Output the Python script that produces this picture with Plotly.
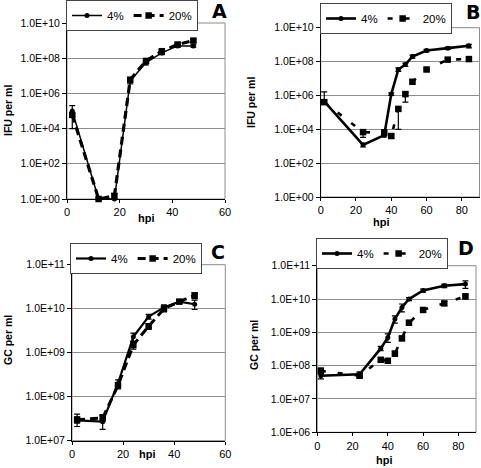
import plotly.graph_objects as go

# ---------------- data ----------------
hpi_A = [2, 12, 18, 24, 30, 36, 42, 48]
A_4 = [1e5, 1, 1, 5e6, 5.6e7, 2e8, 5e8, 5e8]
A_4_hi = [1e5, 0, 0, 1.5e6, 1.5e7, 4e7, 8e7, 8e7]
A_4_lo = [9e4, 0, 0, 1.5e6, 1.5e7, 4e7, 8e7, 8e7]
A_20 = [6e4, 1, 1.5, 6e6, 7e7, 2.5e8, 6e8, 1e9]
A_20_hi = [1e4, 0, 0.5, 1.5e6, 1.5e7, 5e7, 1e8, 2e8]
A_20_lo = [1e4, 0, 0.5, 1.5e6, 1.5e7, 5e7, 1e8, 2e8]

hpi_B = [2, 24, 36, 40, 44, 48, 52, 60, 72, 84]
B_4 = [4.4e5, 1.2e3, 4.5e3, 1.2e6, 3.4e7, 6.6e7, 2e8, 4.5e8, 6.2e8, 8.5e8]
B_4_hi = [1.2e6, 3e2, 5e3, 2e5, 8e6, 1.5e7, 4e7, 8e7, 1e8, 2e8]
B_4_lo = [1e5, 3e2, 1e3, 2e5, 8e6, 1.5e7, 4e7, 8e7, 1e8, 2e8]
B_20 = [4e5, 6.8e3, 6e3, 4e3, 1.6e5, 1.2e6, 6.4e6, 3.4e7, 1.3e8, 1.4e8]
B_20_hi = [1e5, 2e3, 2e3, 1e3, 3e4, 3e5, 1.5e6, 6e6, 2e7, 3e7]
B_20_lo = [1e5, 3.5e3, 1e3, 1e3, 1.5e5, 8e5, 1.5e6, 6e6, 2e7, 3e7]

hpi_C = [2, 12, 18, 24, 30, 36, 42, 48]
C_4 = [2.9e7, 2.7e7, 2e8, 2.3e9, 6.6e9, 1.07e10, 1.45e10, 1.26e10]
C_4_hi = [1.1e7, 1.1e7, 4e7, 5e8, 8e8, 1.5e9, 1.5e9, 3e9]
C_4_lo = [8e6, 9e6, 4e7, 5e8, 8e8, 1.5e9, 1.5e9, 3e9]
C_20 = [3e7, 3.3e7, 1.8e8, 1.5e9, 4e9, 1e10, 1.45e10, 2e10]
C_20_hi = [5e6, 6e6, 3e7, 3e8, 6e8, 1.5e9, 1.5e9, 3e9]
C_20_lo = [5e6, 6e6, 3e7, 3e8, 6e8, 1.5e9, 1.5e9, 3e9]

hpi_D = [2, 24, 36, 40, 44, 48, 52, 60, 72, 84]
D_4 = [5e7, 5.5e7, 3.3e8, 7e8, 2.5e9, 5.6e9, 1e10, 1.8e10, 2.5e10, 2.8e10]
D_4_hi = [1.5e7, 1e7, 5e7, 2e8, 6e8, 1.5e9, 1e9, 2e9, 3e9, 7e9]
D_4_lo = [1e7, 1e7, 5e7, 2e8, 6e8, 1.5e9, 1e9, 2e9, 3e9, 7e9]
D_20 = [7e7, 5e7, 1.5e8, 1.4e8, 2.3e8, 6.6e8, 1.95e9, 4.7e9, 7.4e9, 1.2e10]
D_20_hi = [1.5e7, 8e6, 2e7, 2e7, 4e7, 1e8, 3e8, 6e8, 1e9, 2e9]
D_20_lo = [1.5e7, 8e6, 2e7, 2e7, 4e7, 1e8, 3e8, 6e8, 1e9, 2e9]

series_names = ["4%", "20%"]
panel_letters = ["A", "B", "C", "D"]
y_titles = ["IFU per ml", "IFU per ml", "GC per ml", "GC per ml"]
x_title = "hpi"

# ---------------- layout geometry ----------------
W, H = 481, 468
def px_x(v):
    return v / W
def px_y(v):
    return 1 - v / H

panels = [
    dict(x=hpi_A, s4=(A_4, A_4_hi, A_4_lo), s20=(A_20, A_20_hi, A_20_lo),
         xdom=(67, 225), ydom=(23, 199), xr=[0, 60], xt=[0, 20, 40, 60], ye=(0, 10), ystep=2,
         leg=(66, 0), dash="8px,5px", w4=1.5, w20=3.2,
         letter=(219, 11), ytitle=(8, 111), xtitle=(146, 218)),
    dict(x=hpi_B, s4=(B_4, B_4_hi, B_4_lo), s20=(B_20, B_20_hi, B_20_lo),
         xdom=(320.7, 479.5), ydom=(27.7, 197), xr=[0, 90], xt=[0, 20, 40, 60, 80], ye=(0, 10), ystep=2,
         leg=(320, 3), dash="5px,12px", w4=2.6, w20=2.6,
         letter=(473, 12), ytitle=(251, 103), xtitle=(381, 222)),
    dict(x=hpi_C, s4=(C_4, C_4_hi, C_4_lo), s20=(C_20, C_20_hi, C_20_lo),
         xdom=(72, 225.3), ydom=(264.7, 440.7), xr=[0, 60], xt=[0, 20, 40, 60], ye=(7, 11), ystep=1,
         leg=(70, 243), dash="8px,5px", w4=2.2, w20=3.0,
         letter=(218, 252), ytitle=(8, 340), xtitle=(147, 454)),
    dict(x=hpi_D, s4=(D_4, D_4_hi, D_4_lo), s20=(D_20, D_20_hi, D_20_lo),
         xdom=(317.3, 476), ydom=(265.7, 432.3), xr=[0, 90], xt=[0, 20, 40, 60, 80], ye=(6, 11), ystep=1,
         leg=(316, 238), dash="5px,12px", w4=2.6, w20=2.6,
         letter=(466, 248), ytitle=(254, 345), xtitle=(384, 460)),
]

FONT = "Liberation Sans, Arial, sans-serif"
fig = go.Figure()
layout = dict(width=W, height=H, margin=dict(l=0, r=0, t=0, b=0, autoexpand=False),
              paper_bgcolor="white", plot_bgcolor="white",
              font=dict(family=FONT, size=11, color="black"),
              annotations=[], shapes=[])

for i, p in enumerate(panels):
    n = i + 1
    xa = "x" if n == 1 else f"x{n}"
    ya = "y" if n == 1 else f"y{n}"
    leg = "legend" if n == 1 else f"legend{n}"
    xkey = "xaxis" if n == 1 else f"xaxis{n}"
    ykey = "yaxis" if n == 1 else f"yaxis{n}"

    y4, h4, l4 = p["s4"]
    y20, h20, l20 = p["s20"]
    fig.add_trace(go.Scatter(
        x=p["x"], y=y4, name=series_names[0], xaxis=xa, yaxis=ya, legend=leg,
        mode="lines+markers", cliponaxis=False,
        line=dict(color="black", width=p["w4"]),
        marker=dict(symbol="circle", size=5, color="black"),
        error_y=dict(type="data", array=h4, arrayminus=l4, color="black", thickness=1.2, width=3)))
    fig.add_trace(go.Scatter(
        x=p["x"], y=y20, name=series_names[1], xaxis=xa, yaxis=ya, legend=leg,
        mode="lines+markers", cliponaxis=False,
        line=dict(color="black", width=p["w20"], dash=p["dash"]),
        marker=dict(symbol="square", size=6.5, color="black"),
        error_y=dict(type="data", array=h20, arrayminus=l20, color="black", thickness=1.2, width=3)))

    e0, e1 = p["ye"]
    exps = list(range(e0, e1 + 1, p["ystep"]))
    layout[xkey] = dict(domain=[px_x(p["xdom"][0]), px_x(p["xdom"][1])], anchor=ya,
                        range=p["xr"], tickvals=p["xt"], showgrid=False, zeroline=False,
                        showline=True, linecolor="black", linewidth=1,
                        ticks="outside", ticklen=3, tickcolor="black",
                        tickfont=dict(size=11, family=FONT))
    layout[ykey] = dict(domain=[px_y(p["ydom"][1]), px_y(p["ydom"][0])], anchor=xa,
                        type="log", range=[e0, e1],
                        tickvals=[10 ** e for e in exps],
                        ticktext=[f"1.0E+{e:02d}" for e in exps],
                        showgrid=True, gridcolor="#8c8c8c", gridwidth=1, zeroline=False,
                        showline=True, linecolor="black", linewidth=1,
                        ticks="outside", ticklen=4, tickcolor="black",
                        tickfont=dict(size=10.5, family=FONT))
    layout[leg] = dict(x=px_x(p["leg"][0]), y=px_y(p["leg"][1]), xanchor="left", yanchor="top",
                       orientation="h", bordercolor="#444", borderwidth=1, bgcolor="white",
                       font=dict(size=11.5, family=FONT), itemwidth=30, tracegroupgap=0)
    # frame (top/right in grey)
    layout["shapes"].append(dict(type="rect", xref=f"{xa} domain", yref=f"{ya} domain",
                                 x0=0, x1=1, y0=0, y1=1, line=dict(color="#8c8c8c", width=1),
                                 layer="below"))
    layout["annotations"].append(dict(text=panel_letters[i], x=px_x(p["letter"][0]), y=px_y(p["letter"][1]),
                                      xref="paper", yref="paper", showarrow=False,
                                      xanchor="center", yanchor="middle",
                                      font=dict(size=19, family="DejaVu Sans, Arial", weight="bold")))
    layout["annotations"].append(dict(text=y_titles[i], x=px_x(p["ytitle"][0]), y=px_y(p["ytitle"][1]),
                                      xref="paper", yref="paper", showarrow=False, textangle=-90,
                                      xanchor="center", yanchor="middle",
                                      font=dict(size=10.5, family=FONT, weight="bold")))
    layout["annotations"].append(dict(text=x_title, x=px_x(p["xtitle"][0]), y=px_y(p["xtitle"][1]),
                                      xref="paper", yref="paper", showarrow=False,
                                      xanchor="center", yanchor="middle",
                                      font=dict(size=11, family=FONT, weight="bold")))

fig.update_layout(**layout)
fig.write_html("out.html", config={"displayModeBar": False},
               post_script="document.body.style.margin='0';document.body.style.overflow='hidden';")
